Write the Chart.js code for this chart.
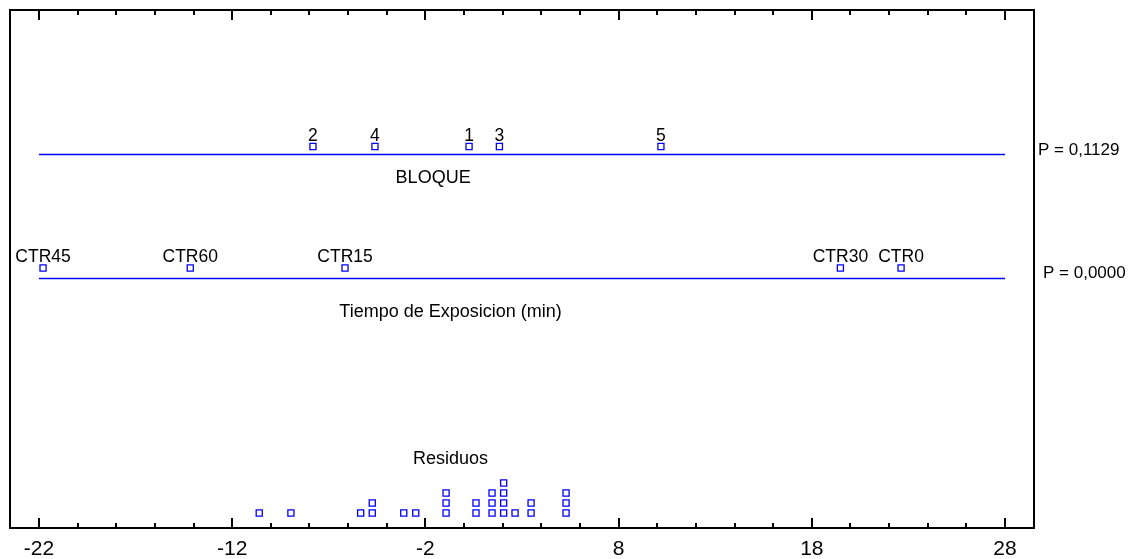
<!DOCTYPE html>
<html><head><meta charset="utf-8">
<script src="https://cdn.jsdelivr.net/npm/chart.js@4/dist/chart.umd.min.js"></script>
<style>html,body{margin:0;padding:0;background:#fff;}</style>
</head><body>
<canvas id="c" width="1147" height="559"></canvas>
<script>
// ---- data ----
const xTicks = [-22,-20,-18,-16,-14,-12,-10,-8,-6,-4,-2,0,2,4,6,8,10,12,14,16,18,20,22,24,26,28];
const majorTicks = [-22,-12,-2,8,18,28];
const bloqueLabels = ['2','4','1','3','5'];
const bloqueValues = [-7.82,-4.61,0.26,1.83,10.19];
const tiempoLabels = ['CTR45','CTR60','CTR15','CTR30','CTR0'];
const tiempoValues = [-21.79,-14.17,-6.16,19.48,22.62];
const residuos = [-10.60,-8.96,-5.35,-4.75,-4.75,-3.12,-2.50,-0.93,-0.93,-0.93,
                  0.62,0.62,1.45,1.45,1.45,2.05,2.05,2.05,2.05,2.64,3.47,3.47,5.28,5.28,5.28];
const rowTitles = ['BLOQUE','Tiempo de Exposicion (min)','Residuos'];
const pValues = ['P = 0,1129','P = 0,0000'];

// ---- layout constants (y scale units: 10 px per unit) ----
const ROW = {
  bloque: {line: 37.4, marker: 38.15, title: 35.0, titleX: -1.6, pDy: -4, pDx: 4},
  tiempo: {line: 25.0, marker: 26.0, title: 21.6, titleX: -0.7, pDy: -5, pDx: 9},
  resid:  {title: 6.9, titleX: -0.7}
};
const FONT = '"Liberation Sans", Arial, sans-serif';
const BLUE = '#0000ff';

// stack residuals into dot-plot levels
const counts = {};
const residPts = residuos.map(v => {
  const k = v.toFixed(2);
  counts[k] = (counts[k] || 0) + 1;
  return {x: v, y: counts[k] + 0.5};
});

const markerStyle = {
  showLine: false, pointStyle: 'rect', pointRadius: 4.3, pointHoverRadius: 4.3,
  pointBorderColor: BLUE, pointBackgroundColor: '#ffffff', pointBorderWidth: 1.3
};

const decor = {
  id: 'decor',
  beforeDatasetsDraw(chart) {
    const {ctx, chartArea: a, scales: {x, y}} = chart;
    ctx.save();
    // row lines
    ctx.strokeStyle = BLUE; ctx.lineWidth = 1.5;
    [ROW.bloque.line, ROW.tiempo.line].forEach(r => {
      const py = Math.round(y.getPixelForValue(r)) + 0.5;
      ctx.beginPath();
      ctx.moveTo(x.getPixelForValue(xTicks[0]), py);
      ctx.lineTo(x.getPixelForValue(xTicks[xTicks.length - 1]), py);
      ctx.stroke();
    });
    // frame
    ctx.strokeStyle = '#000'; ctx.lineWidth = 2;
    ctx.strokeRect(a.left, a.top, a.right - a.left, a.bottom - a.top);
    // ticks inside top and bottom
    xTicks.forEach(v => {
      const px = Math.round(x.getPixelForValue(v));
      const len = majorTicks.includes(v) ? 10 : 5;
      ctx.beginPath();
      ctx.moveTo(px, a.bottom); ctx.lineTo(px, a.bottom - len);
      ctx.moveTo(px, a.top); ctx.lineTo(px, a.top + len);
      ctx.stroke();
    });
    ctx.restore();
  },
  afterDatasetsDraw(chart) {
    const {ctx, chartArea: a, scales: {x, y}} = chart;
    ctx.save();
    ctx.fillStyle = '#000';
    ctx.font = '17.5px ' + FONT;
    ctx.textAlign = 'center'; ctx.textBaseline = 'middle';
    [bloqueLabels, tiempoLabels].forEach((labels, i) => {
      chart.getDatasetMeta(i).data.forEach((pt, j) => {
        ctx.fillText(labels[j], pt.x, pt.y - 10.5);
      });
    });
    ctx.font = '18px ' + FONT;
    const titles = [ROW.bloque, ROW.tiempo, ROW.resid];
    titles.forEach((r, i) => {
      ctx.fillText(rowTitles[i], x.getPixelForValue(r.titleX), y.getPixelForValue(r.title));
    });
    ctx.font = '17px ' + FONT;
    ctx.textAlign = 'left';
    [ROW.bloque, ROW.tiempo].forEach((r, i) => {
      ctx.fillText(pValues[i], a.right + r.pDx, y.getPixelForValue(r.line) + r.pDy);
    });
    ctx.restore();
  }
};

new Chart(document.getElementById('c'), {
  type: 'scatter',
  data: {
    datasets: [
      Object.assign({label: 'BLOQUE', data: bloqueValues.map(v => ({x: v, y: ROW.bloque.marker}))}, markerStyle),
      Object.assign({label: 'Tiempo', data: tiempoValues.map(v => ({x: v, y: ROW.tiempo.marker}))}, markerStyle),
      Object.assign({label: 'Residuos', data: residPts}, markerStyle)
    ]
  },
  options: {
    responsive: false, animation: false, devicePixelRatio: 1,
    layout: {padding: {left: 10, top: 10, right: 113, bottom: 0}},
    plugins: {legend: {display: false}, tooltip: {enabled: false}},
    scales: {
      x: {
        type: 'linear', min: -23.5, max: 29.5,
        afterBuildTicks: s => { s.ticks = xTicks.map(v => ({value: v})); },
        afterFit: s => { s.height = 31; },
        grid: {display: false, drawTicks: false},
        border: {display: false},
        ticks: {
          padding: 9, color: '#000', maxRotation: 0, autoSkip: false,
          font: {family: FONT, size: 21},
          callback: v => majorTicks.includes(v) ? String(v) : ''
        }
      },
      y: {type: 'linear', min: 0, max: 51.8, display: false}
    }
  },
  plugins: [decor]
});
</script>
</body></html>
